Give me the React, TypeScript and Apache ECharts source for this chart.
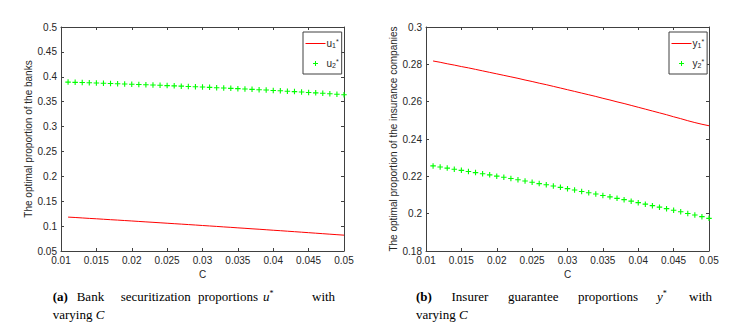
import React, { useEffect, useRef } from "react";
import * as echarts from "echarts";

const C = [
  0.011, 0.012, 0.013, 0.014, 0.015, 0.016, 0.017, 0.018, 0.019, 0.02,
  0.021, 0.022, 0.023, 0.024, 0.025, 0.026, 0.027, 0.028, 0.029, 0.03,
  0.031, 0.032, 0.033, 0.034, 0.035, 0.036, 0.037, 0.038, 0.039, 0.04,
  0.041, 0.042, 0.043, 0.044, 0.045, 0.046, 0.047, 0.048, 0.049, 0.05,
];

const u1 = [
  0.1181, 0.1173, 0.1164, 0.1155, 0.1147, 0.1138, 0.1129, 0.1121, 0.1112, 0.1103,
  0.1094, 0.1085, 0.1076, 0.1067, 0.1058, 0.1049, 0.104, 0.1031, 0.1022, 0.1012,
  0.1003, 0.0994, 0.0984, 0.0975, 0.0965, 0.0956, 0.0946, 0.0937, 0.0927, 0.0917,
  0.0908, 0.0898, 0.0888, 0.0878, 0.0868, 0.0858, 0.0848, 0.0838, 0.0828, 0.0818,
];

const u2 = [
  0.3893, 0.3888, 0.3884, 0.3879, 0.3875, 0.387, 0.3865, 0.386, 0.3855, 0.385,
  0.3845, 0.384, 0.3834, 0.3829, 0.3823, 0.3818, 0.3812, 0.3806, 0.38, 0.3794,
  0.3788, 0.3781, 0.3775, 0.3768, 0.3761, 0.3754, 0.3747, 0.374, 0.3733, 0.3725,
  0.3718, 0.371, 0.3702, 0.3694, 0.3685, 0.3677, 0.3668, 0.3659, 0.365, 0.3638,
];

const y1 = [
  0.2818, 0.2811, 0.2803, 0.2796, 0.2788, 0.2781, 0.2773, 0.2765, 0.2757, 0.2749,
  0.2741, 0.2733, 0.2725, 0.2716, 0.2708, 0.2699, 0.2691, 0.2682, 0.2673, 0.2664,
  0.2655, 0.2646, 0.2637, 0.2628, 0.2618, 0.2609, 0.2599, 0.259, 0.258, 0.257,
  0.256, 0.255, 0.254, 0.253, 0.2519, 0.2509, 0.2498, 0.2488, 0.2479, 0.2471,
];

const y2 = [
  0.2256, 0.225, 0.2244, 0.2238, 0.2232, 0.2226, 0.222, 0.2214, 0.2208, 0.2201,
  0.2195, 0.2188, 0.2182, 0.2175, 0.2168, 0.2161, 0.2155, 0.2148, 0.2141, 0.2134,
  0.2127, 0.2119, 0.2112, 0.2105, 0.2097, 0.209, 0.2082, 0.2075, 0.2067, 0.2059,
  0.2051, 0.2043, 0.2035, 0.2027, 0.2018, 0.201, 0.2001, 0.1993, 0.1984, 0.1975,
];

const xTicks = { min: 0.01, max: 0.05, interval: 0.005 };
const leftY = { min: 0.05, max: 0.5, interval: 0.05 };
const rightY = { min: 0.18, max: 0.3, interval: 0.02 };

const yLabelLeft = "The optimal proportion of the banks";
const yLabelRight = "The optimal proportion of the insurance companies";
const xLabel = "C";

const captionA = ["{b|(a)}", "Bank", "securitization", "proportions", "{i|u}{sup|*}", "with"];
const captionB = ["{b|(b)}", "Insurer", "guarantee", "proportions", "{i|y}{sup|*}", "with"];
const captionAx = [52.7, 76.7, 120.7, 198, 263, 312];
const captionBx = [416, 451.5, 508, 578, 657, 689];

const AX = "#404040";
const TXT = "#262626";
const SANS = "'Liberation Sans', Arial, Helvetica, sans-serif";
const SERIF = "'Liberation Serif', 'Times New Roman', serif";
const PLUS = "path://M2.2,0h1.1v2.2h2.2v1.1h-2.2v2.2h-1.1v-2.2h-2.2v-1.1h2.2z";
const CAP_FS = 13;

const fmt = (v: number) => String(parseFloat(v.toFixed(4)));

function xAxes(gridIndex: number) {
  const common = {
    type: "value",
    gridIndex,
    ...xTicks,
    axisLine: { show: true, onZero: false, lineStyle: { color: AX, width: 1 } },
    axisTick: { show: true, inside: true, length: 3, lineStyle: { color: AX } },
    splitLine: { show: false },
  };
  return [
    {
      ...common,
      position: "bottom",
      name: xLabel,
      nameLocation: "middle",
      nameGap: 15,
      nameTextStyle: { fontFamily: SANS, fontSize: 10, color: TXT },
      axisLabel: { show: true, margin: 4, fontFamily: SANS, fontSize: 10, color: TXT, formatter: fmt },
    },
    { ...common, position: "top", axisLabel: { show: false } },
  ];
}

function yAxes(gridIndex: number, range: any, name: string, gap: number) {
  const common = {
    type: "value",
    gridIndex,
    ...range,
    axisLine: { show: true, onZero: false, lineStyle: { color: AX, width: 1 } },
    axisTick: { show: true, inside: true, length: 3, lineStyle: { color: AX } },
    splitLine: { show: false },
  };
  return [
    {
      ...common,
      position: "left",
      name,
      nameLocation: "middle",
      nameGap: gap,
      nameTextStyle: { fontFamily: SANS, fontSize: 10, color: TXT },
      axisLabel: { show: true, margin: 4, fontFamily: SANS, fontSize: 10, color: TXT, formatter: fmt },
    },
    { ...common, position: "right", axisLabel: { show: false } },
  ];
}

const legendRich = {
  m: { fontFamily: SANS, fontSize: 10, color: TXT },
  sp: { fontFamily: SANS, fontSize: 7, color: TXT, verticalAlign: "top", padding: [0, 0, 4, 0] },
  sb: { fontFamily: SANS, fontSize: 7, color: TXT, verticalAlign: "bottom", padding: [4, 0, 0, 0] },
};

function legendFormatter(name: string) {
  return `{m|${name[0]}}{sb|${name[1]}}{sp|*}`;
}

function legend(left: number, names: string[]) {
  return {
    data: [
      { name: names[0], itemStyle: { opacity: 0 }, lineStyle: { width: 1 } },
      { name: names[1] },
    ],
    orient: "vertical",
    left,
    top: 32,
    itemWidth: 20,
    itemHeight: 5,
    itemGap: 9,
    padding: [6, 3, 5, 2],
    borderColor: AX,
    borderWidth: 1,
    backgroundColor: "#fff",
    selectedMode: false,
    formatter: legendFormatter,
    textStyle: { rich: legendRich, padding: [0, 0, 0, -4] },
  };
}

function caption(words: string[], xs: number[]) {
  const rich = {
    b: { fontFamily: SERIF, fontSize: CAP_FS, fontWeight: "bold", fill: "#000" },
    i: { fontFamily: SERIF, fontSize: CAP_FS, fontStyle: "italic", fill: "#000" },
    sup: { fontFamily: SERIF, fontSize: 8, fill: "#000", verticalAlign: "top", padding: [0, 0, 6, 0] },
  };
  const line1 = words.map((w, k) => ({
    type: "text",
    x: xs[k],
    y: 296,
    style: { text: w, fontFamily: SERIF, fontSize: CAP_FS, fill: "#000", align: "left", verticalAlign: "middle", rich },
  }));
  const line2 = {
    type: "text",
    x: xs[0],
    y: 314,
    style: { text: "varying {i|C}", fontFamily: SERIF, fontSize: CAP_FS, fill: "#000", align: "left", verticalAlign: "middle", rich },
  };
  return [...line1, line2];
}

export default function App() {
  const ref = useRef<HTMLDivElement>(null);
  useEffect(() => {
    document.body.style.margin = "0";
    if (!ref.current) return;
    const chart = echarts.init(ref.current, undefined, { renderer: "svg" });
    const option: any = {
      animation: false,
      backgroundColor: "#fff",
      grid: [
        { left: 61, top: 27, width: 283, height: 224 },
        { left: 426, top: 27, width: 283, height: 224 },
      ],
      xAxis: [...xAxes(0), ...xAxes(1)],
      yAxis: [...yAxes(0, leftY, yLabelLeft, 25), ...yAxes(1, rightY, yLabelRight, 24)],
      legend: [legend(303, ["u1", "u2"]), legend(669, ["y1", "y2"])],
      series: [
        {
          name: "u1",
          type: "line",
          xAxisIndex: 0,
          yAxisIndex: 0,
          data: C.map((c, i) => [c, u1[i]]),
          symbol: "none",
          lineStyle: { color: "#ff0000", width: 1 },
          itemStyle: { color: "#ff0000" },
        },
        {
          name: "u2",
          type: "scatter",
          xAxisIndex: 0,
          yAxisIndex: 0,
          data: C.map((c, i) => [c, u2[i]]),
          symbol: PLUS,
          symbolSize: 5.5,
          itemStyle: { color: "#00ff00", opacity: 1 },
        },
        {
          name: "y1",
          type: "line",
          xAxisIndex: 2,
          yAxisIndex: 2,
          data: C.map((c, i) => [c, y1[i]]),
          symbol: "none",
          lineStyle: { color: "#ff0000", width: 1 },
          itemStyle: { color: "#ff0000" },
        },
        {
          name: "y2",
          type: "scatter",
          xAxisIndex: 2,
          yAxisIndex: 2,
          data: C.map((c, i) => [c, y2[i]]),
          symbol: PLUS,
          symbolSize: 5.5,
          itemStyle: { color: "#00ff00", opacity: 1 },
        },
      ],
      graphic: [...caption(captionA, captionAx), ...caption(captionB, captionBx)],
    };
    chart.setOption(option);
    return () => chart.dispose();
  }, []);
  return <div ref={ref} style={{ width: 736, height: 326 }} />;
}
